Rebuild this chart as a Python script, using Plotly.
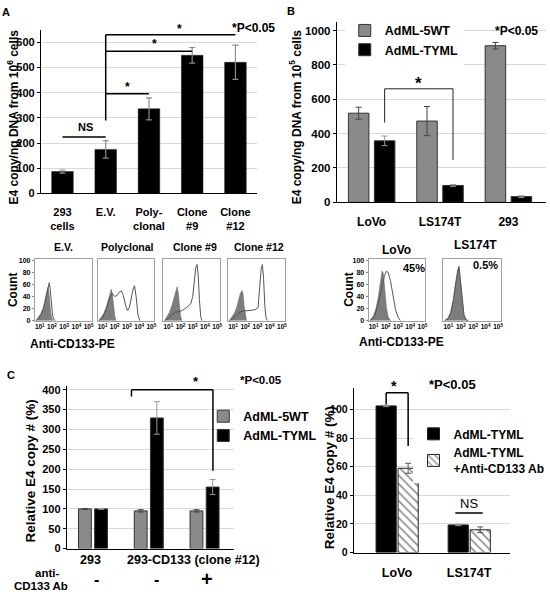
import plotly.graph_objects as go

W, H = 550, 599
FONT = "Liberation Sans, Arial, Helvetica, sans-serif"

# ---------------- DATA ----------------
# Panel A: E4 copy / ng DNA from 10^6 cells
A_categories = ["293 cells", "E.V.", "Polyclonal", "Clone #9", "Clone #12"]
A_ticktext = ["293<br>cells", "E.V.", "Poly-<br>clonal", "Clone<br>#9", "Clone<br>#12"]
A_values = [87, 175, 336, 549, 521]
A_errors = [6, 35, 44, 31, 68]

# Panel B: E4 copy / ng DNA from 10^5 cells
B_groups = ["LoVo", "LS174T", "293"]
B_5wt = [519, 473, 912]
B_5wt_err = [35, 85, 19]
B_tyml = [358, 98, 33]
B_tyml_err = [28, 5, 5]

# Flow cytometry histograms (x in log10 units of intensity, y = count)
EV_fill_x = [0.7, 0.9, 1.1, 1.3, 1.45, 1.55, 1.65, 1.72, 1.8, 1.9, 2.0, 2.1]
EV_fill_y = [0, 5, 12, 22, 35, 45, 55, 52, 32, 12, 3, 0]
EV_line_x = [0.7, 0.9, 1.1, 1.3, 1.45, 1.6, 1.7, 1.78, 1.85, 1.95, 2.05, 2.15, 2.3]
EV_line_y = [0, 4, 10, 20, 32, 45, 58, 63, 52, 28, 9, 2, 0]

POLY_fill_x = [0.7, 0.9, 1.1, 1.3, 1.45, 1.6, 1.72, 1.8, 1.9, 2.0, 2.1]
POLY_fill_y = [0, 5, 12, 22, 33, 45, 52, 45, 25, 8, 0]
POLY_line_x = [0.7, 1.0, 1.3, 1.6, 1.8, 2.0, 2.2, 2.4, 2.55, 2.7, 2.9, 3.05, 3.2, 3.35, 3.5, 3.62, 3.75, 3.9, 4.05]
POLY_line_y = [0, 5, 18, 38, 45, 40, 42, 48, 49, 42, 25, 17, 22, 38, 52, 58, 40, 10, 0]

C9_fill_x = [0.7, 0.9, 1.1, 1.3, 1.45, 1.6, 1.72, 1.8, 1.9, 2.0, 2.1]
C9_fill_y = [0, 6, 14, 25, 38, 50, 56, 48, 25, 8, 0]
C9_line_x = [0.7, 1.0, 1.3, 1.6, 1.9, 2.15, 2.5, 2.84, 3.0, 3.15, 3.25, 3.35, 3.45, 3.55, 3.65, 3.75]
C9_line_y = [0, 4, 10, 14, 15, 17, 22, 28, 40, 70, 88, 93, 75, 35, 8, 0]

C12_fill_x = [0.7, 0.9, 1.1, 1.3, 1.45, 1.6, 1.74, 1.82, 1.9, 2.0, 2.1]
C12_fill_y = [0, 5, 12, 22, 34, 45, 50, 44, 25, 8, 0]
C12_line_x = [0.7, 1.0, 1.3, 1.6, 1.9, 2.2, 2.5, 2.8, 3.05, 3.2, 3.3, 3.4, 3.5, 3.6, 3.7, 3.8]
C12_line_y = [0, 4, 10, 15, 16, 17, 18, 18, 22, 55, 85, 93, 70, 25, 5, 0]

LOVO_fill_x = [0.7, 1.0, 1.2, 1.4, 1.55, 1.7, 1.8, 1.9, 2.05, 2.2, 2.4]
LOVO_fill_y = [0, 8, 20, 40, 62, 82, 78, 52, 22, 6, 0]
LOVO_line_x = [0.7, 1.1, 1.4, 1.7, 1.9, 2.05, 2.2, 2.4, 2.6, 2.8, 3.0, 3.2]
LOVO_line_y = [0, 8, 30, 60, 75, 82, 80, 65, 40, 18, 6, 0]

LS_fill_x = [0.7, 1.0, 1.2, 1.4, 1.6, 1.75, 1.85, 1.95, 2.1, 2.25, 2.4, 2.6]
LS_fill_y = [0, 5, 15, 35, 65, 85, 88, 70, 35, 10, 2, 0]
LS_line_x = [0.7, 1.0, 1.2, 1.4, 1.6, 1.75, 1.85, 1.95, 2.1, 2.25, 2.4, 2.6]
LS_line_y = [0, 4, 14, 33, 62, 82, 90, 72, 36, 10, 2, 0]

FLOW_tickvals = [1, 2, 3, 4, 5]
FLOW_ticktext = ["10<sup>1</sup>", "10<sup>2</sup>", "10<sup>3</sup>", "10<sup>4</sup>", "10<sup>5</sup>"]

# Panel C left: relative E4 copy # (%)
C1_groups = ["293", "293-CD133 no Ab", "293-CD133 + Ab"]
C1_5wt = [100, 95, 95]
C1_5wt_err = [1, 3, 3]
C1_tyml = [100, 329, 155]
C1_tyml_err = [1, 41, 19]
C1_ab_row = ["-", "-", "+"]

# Panel C right
C2_groups = ["LoVo", "LS174T"]
C2_tyml = [102.5, 19.3]
C2_tyml_err = [0.5, 0.5]
C2_ab = [58.9, 15.9]
C2_ab_err = [3.5, 2]


# ---------------- helpers ----------------
def dx(a, b):
    return [a / W, b / W]


def dy(top, bottom):
    return [1 - bottom / H, 1 - top / H]


def px(x):
    return x / W


def py(y):
    return 1 - y / H


GRAY = "#8a8a8a"
fig = go.Figure()

# Panel A bars
fig.add_trace(go.Bar(
    x=A_categories, y=A_values, width=0.5,
    marker=dict(color="black", line=dict(color="#222", width=0.5)),
    error_y=dict(type="data", array=A_errors, color="#8c8c8c", thickness=1.2, width=3),
    xaxis="x", yaxis="y", showlegend=False))

# Panel B bars
fig.add_trace(go.Bar(
    x=B_groups, y=B_5wt, name="AdML-5WT", offset=-0.34, width=0.3,
    marker=dict(color=GRAY, line=dict(color="#333", width=1)),
    error_y=dict(type="data", array=B_5wt_err, color="#444", thickness=1, width=3),
    xaxis="x2", yaxis="y2", legend="legend"))
fig.add_trace(go.Bar(
    x=B_groups, y=B_tyml, name="AdML-TYML", offset=0.04, width=0.3,
    marker=dict(color="black", line=dict(color="#333", width=1)),
    error_y=dict(type="data", array=B_tyml_err, color="#999", thickness=1, width=3),
    xaxis="x2", yaxis="y2", legend="legend"))

# Flow histograms
flows = [
    (EV_fill_x, EV_fill_y, EV_line_x, EV_line_y, "x3", "y3"),
    (POLY_fill_x, POLY_fill_y, POLY_line_x, POLY_line_y, "x4", "y4"),
    (C9_fill_x, C9_fill_y, C9_line_x, C9_line_y, "x5", "y5"),
    (C12_fill_x, C12_fill_y, C12_line_x, C12_line_y, "x6", "y6"),
    (LOVO_fill_x, LOVO_fill_y, LOVO_line_x, LOVO_line_y, "x7", "y7"),
    (LS_fill_x, LS_fill_y, LS_line_x, LS_line_y, "x8", "y8"),
]
for fx, fy, lx, ly, xa, ya in flows:
    fig.add_trace(go.Scatter(x=fx, y=fy, mode="lines", fill="tozeroy",
                             fillcolor="#7d7d7d", line=dict(color="#6a6a6a", width=0.6),
                             xaxis=xa, yaxis=ya, showlegend=False))
    fig.add_trace(go.Scatter(x=lx, y=ly, mode="lines",
                             line=dict(color="#555", width=1),
                             xaxis=xa, yaxis=ya, showlegend=False))

# Panel C left
fig.add_trace(go.Bar(
    x=C1_groups, y=C1_5wt, name="AdML-5WT", offset=-0.27, width=0.23,
    marker=dict(color=GRAY, line=dict(color="#333", width=1)),
    error_y=dict(type="data", array=C1_5wt_err, color="#444", thickness=1, width=3),
    xaxis="x9", yaxis="y9", legend="legend2"))
fig.add_trace(go.Bar(
    x=C1_groups, y=C1_tyml, name="AdML-TYML", offset=0.02, width=0.23,
    marker=dict(color="black", line=dict(color="#333", width=1)),
    error_y=dict(type="data", array=C1_tyml_err, color="#999", thickness=1, width=3),
    xaxis="x9", yaxis="y9", legend="legend2"))

# Panel C right
fig.add_trace(go.Bar(
    x=C2_groups, y=C2_tyml, name="AdML-TYML", offset=-0.29, width=0.28,
    marker=dict(color="black", line=dict(color="#222", width=1)),
    error_y=dict(type="data", array=C2_tyml_err, color="#999", thickness=1, width=3),
    xaxis="x10", yaxis="y10", legend="legend3"))
fig.add_trace(go.Bar(
    x=C2_groups, y=C2_ab, name="AdML-TYML<br>+Anti-CD133 Ab", offset=0.015, width=0.28,
    marker=dict(color="white", line=dict(color="#222", width=1),
                pattern=dict(shape="\\", fgcolor="#222", bgcolor="white", size=6, solidity=0.3)),
    error_y=dict(type="data", array=C2_ab_err, color="#555", thickness=1, width=3),
    xaxis="x10", yaxis="y10", legend="legend3"))

# ---------------- axes ----------------
def bar_y(domain, anchor, rng, dtick, size):
    return dict(domain=domain, anchor=anchor, range=rng, dtick=dtick,
                showgrid=True, gridcolor="#d9d9d9", gridwidth=1,
                showline=True, linecolor="black", linewidth=1,
                ticks="outside", ticklen=3, tickcolor="black",
                zeroline=False, tickfont=dict(size=size))


def bar_x(domain, anchor, rng, size, standoff, show=True):
    return dict(domain=domain, anchor=anchor, range=rng, type="category",
                showline=True, linecolor="black", linewidth=1.2, ticks="",
                showgrid=False, zeroline=False, showticklabels=show,
                tickfont=dict(size=size), ticklabelstandoff=standoff)


def flow_x(domain, anchor):
    return dict(domain=domain, anchor=anchor, range=[0.6, 5.25],
                tickmode="array", tickvals=FLOW_tickvals, ticktext=FLOW_ticktext,
                tickfont=dict(size=6.5), tickangle=0, showline=True, mirror=True,
                linecolor="#a0a0a0", linewidth=1, ticks="", showgrid=False,
                zeroline=False, ticklabelstandoff=0)


def flow_y(domain, anchor, show):
    return dict(domain=domain, anchor=anchor, range=[0, 103],
                tickmode="array", tickvals=[0, 20, 40, 60, 80, 100],
                showticklabels=show, tickfont=dict(size=7), showline=True,
                mirror=True, linecolor="#a0a0a0", linewidth=1,
                ticks="outside" if show else "", ticklen=2, tickcolor="#888",
                showgrid=False, zeroline=False)


ax = {}
xa = bar_x(dx(41, 258), "y", [-0.5, 4.5], 11, 8)
xa.update(tickmode="array", tickvals=A_categories, ticktext=A_ticktext)
ax["xaxis"] = xa
ax["yaxis"] = bar_y(dy(28.25, 194), "x", [0, 650], 100, 11)
ax["xaxis2"] = bar_x(dx(338, 548), "y2", [-0.51, 2.55], 12, 8)
ax["yaxis2"] = bar_y(dy(20.3, 203), "x2", [0, 1050], 200, 11.5)

flow_boxes = [(35, 92), (98, 155), (164, 221), (229, 286), (370, 427), (445, 503)]
for i, (a, b) in enumerate(flow_boxes):
    n = i + 3
    ax[f"xaxis{n}"] = flow_x(dx(a, b), f"y{n}")
    ax[f"yaxis{n}"] = flow_y(dy(260, 323), f"x{n}", i in (0, 4))

ax["xaxis9"] = bar_x(dx(67, 235), "y9", [-0.48, 2.52], 12, 0, show=False)
ax["yaxis9"] = bar_y(dy(389, 554), "x9", [0, 410], 50, 11)
ax["xaxis10"] = bar_x(dx(355, 512), "y10", [-0.6, 1.57], 12.5, 8)
ax["yaxis10"] = bar_y(dy(391.25, 558), "x10", [0, 115], 20, 10.5)

# ---------------- brackets (shapes) ----------------
shapes = []


def seg(xref, yref, x0, y0, x1, y1, w=1.5, color="black"):
    shapes.append(dict(type="line", xref=xref, yref=yref, x0=x0, y0=y0, x1=x1, y1=y1,
                       line=dict(color=color, width=w)))


# Panel A
seg("x", "y", 0, 224, 1, 224)
seg("x", "y", 1, 290, 1, 631)
seg("x", "y", 1, 631, 4, 631)
seg("x", "y", 1, 565, 3, 565)
seg("x", "y", 1, 396, 2, 396)
# Panel B
seg("x2", "y2", 0.19, 465, 0.19, 661, 1, "#222")
seg("x2", "y2", 0.19, 661, 1.19, 661, 1, "#222")
seg("x2", "y2", 1.19, 661, 1.19, 247, 1, "#222")
# Panel C left
seg("x9", "y9", 0.68, 383, 0.68, 400)
seg("x9", "y9", 0.68, 400, 2.14, 400)
seg("x9", "y9", 2.14, 400, 2.14, 196)
# Panel C right
seg("x10", "y10", -0.15, 103.4, -0.15, 111.7)
seg("x10", "y10", -0.15, 111.7, 0.155, 111.7)
seg("x10", "y10", 0.155, 111.7, 0.155, 74.5)
seg("x10", "y10", 0.81, 27.6, 1.19, 27.6, 1.5)

# ---------------- text annotations ----------------
annotations = []


def txt(text, x, y, size=12, angle=0, weight="bold", xanchor="center"):
    annotations.append(dict(text=text, x=px(x), y=py(y), xref="paper", yref="paper",
                            showarrow=False, xanchor=xanchor, yanchor="middle",
                            textangle=angle,
                            font=dict(size=size, weight=weight, family=FONT, color="black")))


txt("A", 6, 10, 11)
txt("B", 292, 9, 11)
txt("C", 11, 378, 11)

txt("E4 copy/ng DNA from 10<sup>6</sup> cells", 13, 116, 12, -90)
txt("E4 copy/ng DNA from 10<sup>5</sup> cells", 297, 116, 12, -90)
txt("NS", 86, 127, 11)
txt("*", 128, 86, 12)
txt("*", 155, 43, 12)
txt("*", 180, 27, 12)
txt("*P<0.05", 254, 26, 12)
txt("*", 420, 83, 17)
txt("*P<0.05", 518, 29, 12)

txt("E.V.", 64, 248, 10.5)
txt("Polyclonal", 128, 248, 10.5)
txt("Clone #9", 196, 248, 10.5)
txt("Clone #12", 260, 248, 10.5)
txt("LoVo", 398, 251, 12)
txt("LS174T", 477, 246, 12)
txt("45%", 416, 270, 11)
txt("0.5%", 487, 267, 11)
txt("Count", 13, 291, 12, -90)
txt("Count", 350, 291, 12, -90)
txt("Anti-CD133-PE", 73, 347, 12)
txt("Anti-CD133-PE", 403, 345, 12)

txt("Relative E4 copy # (%)", 31, 475, 13.5, -90)
txt("*", 197, 385, 13)
txt("*P<0.05", 262, 383, 11.5)
txt("293", 91, 566, 12.5)
txt("293-CD133 (clone #12)", 194, 566, 12.5)
txt("anti-", 47, 579, 11.5)
txt("CD133 Ab", 41, 592, 11.5)
for sign, xpos in zip(C1_ab_row, [97, 157, 208]):
    txt(sign, xpos, 585, 20 if sign == "+" else 16)

txt("Relative E4 copy # (%)", 331, 482, 13.5, -90)
txt("*", 395, 389, 14)
txt("*P<0.05", 454, 388, 13)
txt("NS", 471, 508, 13, weight="normal")

fig.update_layout(
    width=W, height=H, autosize=False,
    margin=dict(l=0, r=0, t=0, b=0),
    paper_bgcolor="white", plot_bgcolor="white",
    font=dict(family=FONT, size=12, color="black", weight="bold"),
    barmode="overlay",
    shapes=shapes, annotations=annotations,
    legend=dict(x=px(346), y=py(14), xanchor="left", yanchor="top",
                bgcolor="white", font=dict(size=12.5)),
    legend2=dict(x=px(204), y=py(405), xanchor="left", yanchor="top",
                 bgcolor="rgba(0,0,0,0)", font=dict(size=12.5)),
    legend3=dict(x=px(415), y=py(423), xanchor="left", yanchor="top",
                 bgcolor="white", font=dict(size=12)),
    **ax,
)

fig.write_html("out.html", config={"displayModeBar": False},
               post_script="document.body.style.margin='0px';")
